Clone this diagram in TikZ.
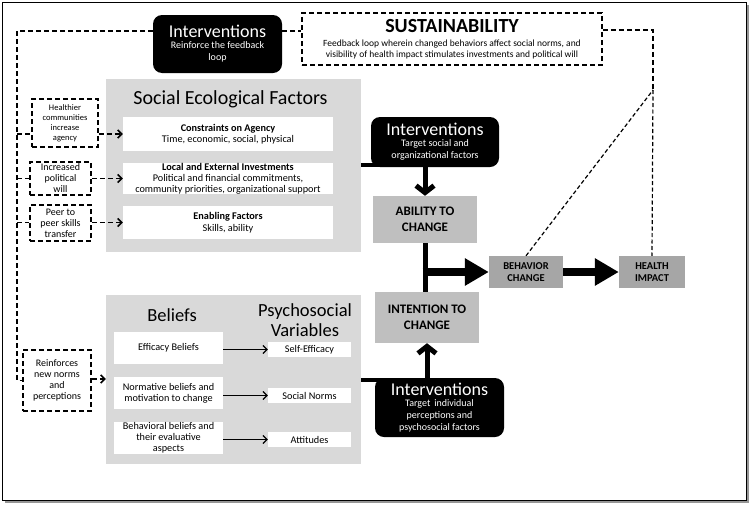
\documentclass[tikz,border=0pt]{standalone}
\usepackage{fontspec}
\setmainfont{Carlito}
\usetikzlibrary{arrows.meta, positioning, calc}
\definecolor{panelcolor}{RGB}{217, 217, 217}
\definecolor{stagecolor}{RGB}{191, 191, 191}
\definecolor{outcolor}  {RGB}{166, 166, 166}
\definecolor{shadowcolor}{RGB}{150, 150, 150}
\newcommand{\fsz}[2]{\fontsize{#1}{#2}\selectfont}
\tikzset{
	panel/.style={
		rectangle, fill=panelcolor, draw=none, inner sep=0pt
	},
	whitebox/.style={
		rectangle, fill=white, draw=none, inner sep=0pt,
		align=center, font=\fsz{10.25}{11.5}
	},
	darkbox/.style={
		rectangle, rounded corners=9pt, fill=black, text=white,
		inner sep=0pt, align=center
	},
	dashbox/.style={
		rectangle, draw=black, dashed, line width=1.6pt,
		dash pattern=on 5pt off 3pt, fill=white, inner sep=0pt,
		align=center, font=\fsz{10}{11}
	},
	stagebox/.style={
		rectangle, fill=stagecolor, inner sep=0pt,
		align=center, font=\fsz{13}{16}\bfseries
	},
	outbox/.style={
		rectangle, fill=outcolor, inner sep=0pt,
		align=center, font=\fsz{10.5}{11.5}\bfseries
	},
	loopline/.style={
		line width=1.6pt, dash pattern=on 5pt off 3pt
	},
	thinloop/.style={
		line width=1.2pt, dash pattern=on 4pt off 2.5pt
	},
	feedarrow/.style={
		loopline, -{Straight Barb[length=4pt,width=8pt]}
	},
	varrow/.style={
		line width=1.2pt, -{Straight Barb[length=4pt,width=8pt]}
	},
	linkline/.style={
		line width=3.5pt
	},
	stemline/.style={
		line width=5pt
	},
	chevarrow/.style={
		line width=5pt, -{Straight Barb[length=7pt,width=18pt]}
	},
	blockarrow/.style={
		line width=8pt, -{Triangle[length=24pt,width=26pt]}
	}
}

\begin{document}
\begin{tikzpicture}[x=1pt, y=-1pt]
	\useasboundingbox (0,0) rectangle (751,506);
	
	%% ═══════════════════════════════
	%%  FRAME
	%% ═══════════════════════════════
	\fill[shadowcolor] (5,5) rectangle (749,503);
	\draw[fill=white, line width=1pt] (2,2) rectangle (746,500);
	
	%% ═══════════════════════════════
	%%  TOP ROW — Interventions + Sustainability
	%% ═══════════════════════════════
	\node[darkbox, minimum width=129pt, minimum height=58pt] (intFeed) at (217.5,44)
	{{\fsz{18}{20}Interventions}\\[-1pt]
		{\fsz{10}{11.5}Reinforce the feedback}\\
		{\fsz{10}{11.5}loop}};
	
	\node[dashbox, minimum width=300pt, minimum height=52pt] (sust) at (452,39)
	{{\fsz{20}{20}\bfseries SUSTAINABILITY}\\[3pt]
		{\fsz{9.5}{11.5}Feedback loop wherein changed behaviors affect social norms, and}\\
		{\fsz{9.5}{11.5}visibility of health impact stimulates investments and political will}};
	
	\coordinate (loopL) at (17,31);
	\coordinate (loopR) at (653,30);
	\coordinate (loopD) at (653,90);
	
	%% ═══════════════════════════════
	%%  SOCIAL ECOLOGICAL FACTORS
	%% ═══════════════════════════════
	\node[panel, minimum width=255pt, minimum height=173pt] (sef) at (233.5,165.5) {};
	\node[font=\fsz{20}{22}] (sefTitle) at (230.5,99) {Social Ecological Factors};
	
	\node[whitebox, minimum width=210pt, minimum height=34pt] (constr) at (228,134)
	{\textbf{Constraints on Agency}\\Time, economic, social, physical};
	\node[whitebox, font=\fsz{10.25}{11.2}, minimum width=210pt, minimum height=31pt] (invest) at (228,178.5)
	{\textbf{Local and External Investments}\\Political and financial commitments,\\community priorities, organizational support};
	\node[whitebox, minimum width=210pt, minimum height=33pt] (enabl) at (228,222.5)
	{\textbf{Enabling Factors}\\Skills, ability};
	
	%% feedback boxes (left)
	\node[dashbox, font=\fsz{8.5}{10}, minimum width=66pt, minimum height=48pt] (healthier) at (65,123)
	{Healthier\\communities\\increase\\agency};
	\node[dashbox, minimum width=61pt, minimum height=33pt] (political) at (60.5,178.5)
	{Increased\\political\\will};
	\node[dashbox, minimum width=61pt, minimum height=36pt] (peer) at (60.5,223)
	{Peer to\\peer skills\\transfer};
	
	%% ═══════════════════════════════
	%%  BELIEFS / PSYCHOSOCIAL VARIABLES
	%% ═══════════════════════════════
	\node[panel, minimum width=255pt, minimum height=169pt] (beliefsBox) at (233.5,379.5) {};
	\node[font=\fsz{18.5}{20}] (beliefsTitle) at (172,315) {Beliefs};
	\node[font=\fsz{18.5}{20}, align=center] (psychTitle) at (305,320) {Psychosocial\\Variables};
	
	\node[whitebox, minimum width=109pt, minimum height=32pt] (effB) at (168.5,348) {Efficacy Beliefs};
	\node[whitebox, font=\fsz{10.25}{11}, minimum width=109pt, minimum height=32pt] (normB) at (168.5,393)
	{Normative beliefs and\\motivation to change};
	\node[whitebox, font=\fsz{10.25}{11}, minimum width=109pt, minimum height=32pt] (behB) at (168.5,438)
	{Behavioral beliefs and\\their evaluative\\aspects};
	
	\node[whitebox, minimum width=83pt, minimum height=15pt] (selfEff)  at (309.5,349.5) {Self-Efficacy};
	\node[whitebox, minimum width=83pt, minimum height=15pt] (socNorms) at (309.5,395.5) {Social Norms};
	\node[whitebox, minimum width=83pt, minimum height=15pt] (attit)    at (309.5,439.5) {Attitudes};
	
	\node[dashbox, minimum width=68pt, minimum height=61pt] (reinforce) at (57,380.5)
	{Reinforces\\new norms\\and\\perceptions};
	
	%% ═══════════════════════════════
	%%  CHANGE PATHWAY
	%% ═══════════════════════════════
	\node[stagebox, minimum width=104pt, minimum height=47pt] (ability) at (425,219.5)
	{ABILITY TO\\CHANGE};
	\node[stagebox, minimum width=104pt, minimum height=51pt] (intention) at (427,317.5)
	{INTENTION TO\\CHANGE};
	\node[outbox, minimum width=74pt, minimum height=32pt] (behavior) at (526,272)
	{BEHAVIOR\\CHANGE};
	\node[outbox, minimum width=66pt, minimum height=32pt] (health) at (652,272)
	{HEALTH\\IMPACT};
	
	%% ═══════════════════════════════
	%%  CONNECTORS
	%% ═══════════════════════════════
	
	% feedback loop (dashed)
	\draw[loopline] (intFeed.west |- loopL) -- (loopL) |- (reinforce.west);
	\draw[loopline] (intFeed.east |- loopL) -- (sust.west |- loopL);
	\draw[loopline] (sust.east |- loopR) -- (loopR) -- (loopD);
	\draw[thinloop] (loopD) -- (health.north);
	\draw[thinloop] (behavior.north) -- (loopD);
	
	% branches to feedback boxes
	\draw[loopline] (loopL |- constr) -- (healthier.west |- constr);
	\draw[loopline] (loopL |- invest) -- (political.west |- invest);
	\draw[loopline] (loopL |- enabl) -- (peer.west |- enabl);
	
	% feedback boxes -> factors
	\draw[feedarrow] (healthier.east |- constr) -- (constr.west);
	\draw[feedarrow] (political.east |- invest) -- (invest.west);
	\draw[feedarrow] (peer.east |- enabl) -- (enabl.west);
	\draw[feedarrow] (reinforce.east |- 0,379) -- (beliefsBox.west |- 0,379);
	
	% beliefs -> variables
	\draw[varrow] (effB.east |- selfEff) -- (selfEff.west);
	\draw[varrow] (normB.east |- socNorms) -- (socNorms.west);
	\draw[varrow] (behB.east |- attit) -- (attit.west);
	
	% panels -> interventions
	\draw[linkline] (sef.east |- 0,165) -- (399,165);
	\draw[linkline] (beliefsBox.east |- 0,380) -- (399,380);
	
	% interventions boxes (drawn over their links)
	\node[darkbox, minimum width=128pt, minimum height=50pt] (intSocial) at (435,142)
	{{\fsz{18}{20}Interventions}\\[-1pt]
		{\fsz{10}{11.5}Target social and}\\
		{\fsz{10}{11.5}organizational factors}};
	\node[darkbox, minimum width=129pt, minimum height=59pt] (intIndiv) at (439.5,407.5)
	{{\fsz{18}{20}Interventions}\\[-1pt]
		{\fsz{10}{11.2}Target\, individual}\\
		{\fsz{10}{11.2}perceptions and}\\
		{\fsz{10}{11.2}psychosocial factors}};
	
	\draw[chevarrow] (intSocial.south -| ability) -- (ability.north);
	\draw[chevarrow] (intIndiv.north -| intention) -- (intention.south);
	
	% ability / intention -> behavior -> health
	\draw[stemline] (ability.south) -- (ability.south |- intention.north);
	\draw[blockarrow] ([xshift=-2.5pt]ability.south |- behavior.west) -- (behavior.west);
	\draw[blockarrow] (behavior.east) -- (health.west);
\end{tikzpicture}
\end{document}
